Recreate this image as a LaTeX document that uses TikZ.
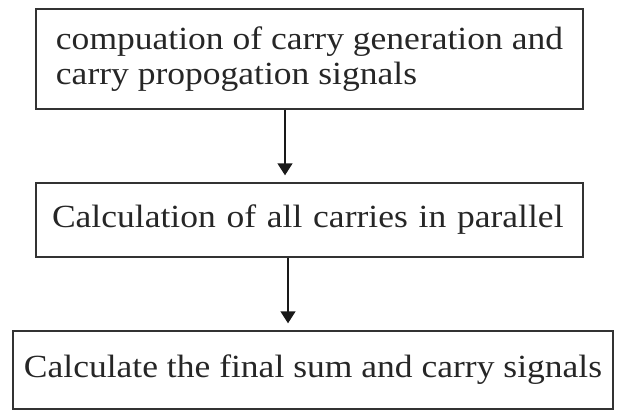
\documentclass[tikz,border=0pt]{standalone}
\usepackage{fontspec}
\setmainfont{Liberation Serif}[FakeStretch=1.1]
\usetikzlibrary{arrows.meta}
\begin{document}
\begin{tikzpicture}[x=1pt,y=-1pt,
  box/.style={draw=black!80, line width=1.4pt, text=black!85, inner sep=0pt,
    font=\fontsize{32.3}{35}\selectfont},
  arr/.style={draw=black!90, line width=1.4pt, -{Triangle[width=15pt,length=12pt]}, shorten >=7pt}]
\useasboundingbox (0,0) rectangle (617,410);
\node[box, minimum width=547pt, minimum height=100pt, align=left] (b1) at (309.5,59)
  {compuation of carry generation and\\carry propogation signals};
\node[box, minimum width=547pt, minimum height=74pt, text width=515pt, inner xsep=16pt, align=left] (b2) at (309.5,220)
  {\hyphenpenalty=10000 Calculation of all carries in parallel};
\node[box, minimum width=600pt, minimum height=78pt, align=center] (b3) at (313,370)
  {Calculate the final sum and carry signals};
\coordinate (a1) at (285,0);
\coordinate (a2) at (288,0);
\draw[arr] (b1.south -| a1) -- (b2.north -| a1);
\draw[arr] (b2.south -| a2) -- (b3.north -| a2);
\end{tikzpicture}
\end{document}
